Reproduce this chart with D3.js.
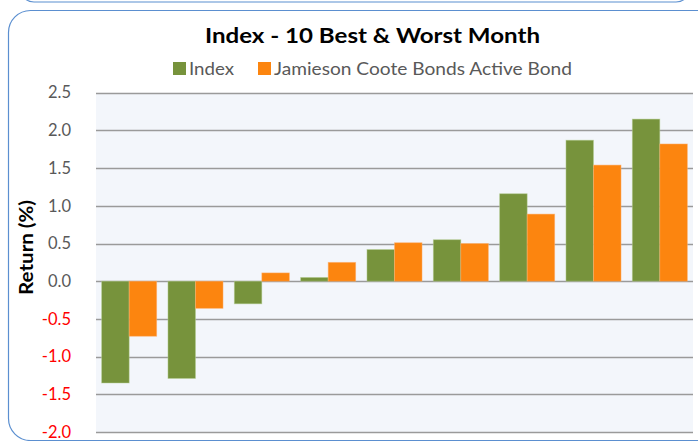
<!DOCTYPE html>
<html>
<head>
<meta charset="utf-8">
<script src="https://cdn.jsdelivr.net/npm/d3@7"></script>
<style>
  body { margin: 0; background: #fff; }
  svg { display: block; font-family: Lato, "Open Sans", sans-serif; }
</style>
</head>
<body>
<svg id="chart" width="698" height="441"></svg>
<script>
// chart data
var categories = ['1', '2', '3', '4', '5', '6', '7', '8', '9'];
var seriesNames = ['Index', 'Jamieson Coote Bonds Active Bond'];
var indexValues = [-1.35, -1.29, -0.30, 0.05, 0.42, 0.55, 1.16, 1.87, 2.15];
var fundValues = [-0.73, -0.36, 0.11, 0.25, 0.51, 0.50, 0.89, 1.54, 1.82];
var yTicks = [-2.0, -1.5, -1.0, -0.5, 0.0, 0.5, 1.0, 1.5, 2.0, 2.5];

var colors = ['#77933c', '#fc850f'];

var svg = d3.select('#chart');

// outer frames
svg.append('rect')
    .attr('x', 20).attr('y', -30)
    .attr('width', 670).attr('height', 32)
    .attr('rx', 14)
    .style('fill', 'none').style('stroke', '#5b8fd0').style('stroke-width', 1.2);

svg.append('rect')
    .attr('x', 8.5).attr('y', 10.5)
    .attr('width', 720).attr('height', 430)
    .attr('rx', 22)
    .style('fill', '#fff').style('stroke', '#5b8fd0').style('stroke-width', 1.2);

var x0 = 96, x1 = 693;
var y = d3.scaleLinear().domain([-2, 2.5]).range([432, 92.7]);
var x = d3.scaleBand().domain(categories).range([x0, x1]).paddingInner(0.17).paddingOuter(0.085);
var xs = d3.scaleBand().domain([0, 1]).range([0, x.bandwidth()]);

// plot background
svg.append('rect')
    .attr('x', x0).attr('y', y(2.5))
    .attr('width', x1 - x0).attr('height', y(-2) - y(2.5))
    .style('fill', '#f3f6fb');

// gridlines
svg.append('g').selectAll('line')
    .data(yTicks)
    .enter().append('line')
    .attr('x1', x0).attr('x2', x1)
    .attr('y1', function(d) { return Math.round(y(d)) + 0.5; })
    .attr('y2', function(d) { return Math.round(y(d)) + 0.5; })
    .style('stroke', '#9a9a9a').style('stroke-width', 1.3);

// y axis labels (plain hyphen for minus, negatives in red)
var fmt = d3.formatLocale({decimal: '.', thousands: ',', grouping: [3], currency: ['', ''], minus: '-'}).format('.1f');
var yAxis = d3.axisLeft(y).tickValues(yTicks).tickSize(0).tickPadding(0)
    .tickFormat(fmt);
var yg = svg.append('g').attr('transform', 'translate(71,0)').call(yAxis);
yg.select('.domain').remove();
yg.selectAll('text')
    .attr('fill', null)
    .style('font-size', '16.5px')
    .style('font-family', 'Lato, sans-serif')
    .style('fill', function(d) { return d < 0 ? '#ff0000' : '#595959'; });

// bars
var allSeries = [indexValues, fundValues];
allSeries.forEach(function(vals, si) {
    svg.append('g').selectAll('rect')
        .data(vals)
        .enter().append('rect')
        .attr('x', function(d, i) { return x(categories[i]) + xs(si); })
        .attr('y', function(d) { return y(Math.max(0, d)); })
        .attr('width', xs.bandwidth())
        .attr('height', function(d) { return Math.abs(y(d) - y(0)); })
        .style('fill', colors[si])
        .style('stroke', si == 0 ? '#b6cf95' : '#fdb070')
        .style('stroke-width', 0.8)
        .style('stroke-opacity', 0.6);
});

// title
svg.append('text')
    .attr('x', 205).attr('y', 43)
    .attr('textLength', 335).attr('lengthAdjust', 'spacingAndGlyphs')
    .style('font-size', '21px').style('font-weight', 'bold').style('fill', '#000')
    .text('Index - 10 Best & Worst Month');

// legend
var legend = svg.append('g');
var legendX = [173, 258];
var legendLen = [45, 298];
seriesNames.forEach(function(name, i) {
    legend.append('rect')
        .attr('x', legendX[i]).attr('y', 62)
        .attr('width', 13).attr('height', 13)
        .style('fill', colors[i]);
    legend.append('text')
        .attr('x', legendX[i] + 16).attr('y', 75)
        .attr('textLength', legendLen[i]).attr('lengthAdjust', 'spacingAndGlyphs')
        .style('font-size', '16.5px').style('fill', '#595959')
        .text(name);
});

// y axis title
svg.append('text')
    .attr('transform', 'translate(33,247.5) rotate(-90)')
    .attr('text-anchor', 'middle')
    .attr('textLength', 95).attr('lengthAdjust', 'spacingAndGlyphs')
    .style('font-size', '19px').style('font-weight', 'bold').style('fill', '#000')
    .text('Return (%)');
</script>
</body>
</html>
